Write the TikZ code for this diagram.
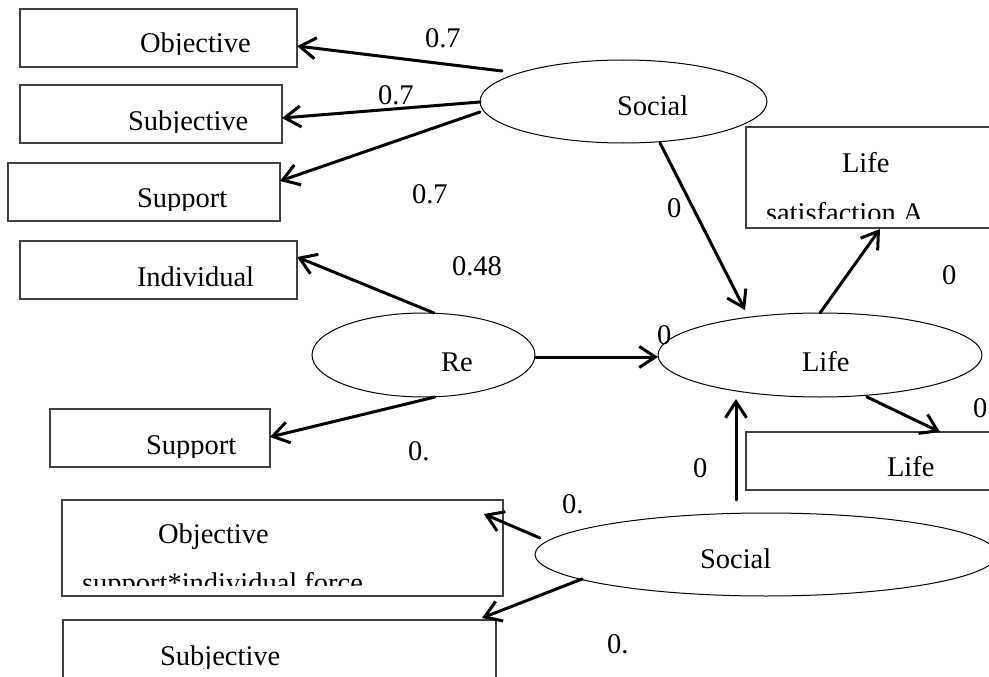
\documentclass[tikz,border=0pt]{standalone}
\usepackage{fontspec}
\setmainfont{Liberation Serif}
\usetikzlibrary{arrows.meta,shapes.geometric}
\begin{document}
\begin{tikzpicture}[x=1pt,y=-1pt,
  box/.style={draw=black!75,line width=1.1pt,rectangle,inner sep=0,outer sep=0,anchor=north west},
  oval/.style={draw,line width=1pt,ellipse,inner sep=0,outer sep=0},
  txt/.style={inner sep=0,outer sep=0,anchor=base west,font=\fontsize{28.5}{34}\selectfont},
  arr/.style={line width=3pt,-{Straight Barb[length=16pt,width=21pt]},line cap=round,line join=round}]
\useasboundingbox (0,0) rectangle (989,677);
% boxes
\node[box,minimum width=277,minimum height=58] (objA) at (20,9) {};
\node[box,minimum width=262,minimum height=58] (subA) at (20,85) {};
\node[box,minimum width=272,minimum height=58] (supA) at (8,163) {};
\node[box,minimum width=277,minimum height=58] (indA) at (20,241) {};
\node[box,minimum width=220,minimum height=58] (supB) at (50,409) {};
\node[box,minimum width=441,minimum height=96] (objB) at (62,500) {};
\node[box,minimum width=433,minimum height=80] (subB) at (63,620) {};
\node[box,minimum width=260,minimum height=101] (lifeA) at (746,127) {};
\node[box,minimum width=260,minimum height=58] (lifeB) at (746,432) {};
% ellipses
\node[oval,minimum width=287,minimum height=83] (socA) at (623.5,101.5) {};
\node[oval,minimum width=223,minimum height=84] (re) at (423.5,355) {};
\node[oval,minimum width=324,minimum height=84] (life) at (820,355) {};
\node[oval,minimum width=462,minimum height=83] (socB) at (766,554.5) {};
% texts (clipped like the original text boxes)
\begin{scope}\clip (0,0) rectangle (989,55);
\node[txt] (tObjA) at (140,53) {Objective};\end{scope}
\begin{scope}\clip (0,60) rectangle (989,132);
\node[txt] (tSubA) at (128,130) {Subjective};\end{scope}
\begin{scope}\clip (0,150) rectangle (989,210);
\node[txt] (tSupA) at (137,207) {Support};\end{scope}
\node[txt] (tIndA) at (137,286) {Individual};
\begin{scope}\clip (0,420) rectangle (989,457);
\node[txt] (tSupB) at (146,454) {Support};\end{scope}
\begin{scope}\clip (0,505) rectangle (989,550);
\node[txt] (tObjB) at (158,543) {Objective};\end{scope}
\begin{scope}\clip (0,560) rectangle (989,585);
\node[txt] (tObjB2) at (82,592) {support*individual force};\end{scope}
\begin{scope}\clip (0,625) rectangle (989,668);
\node[txt] (tSubB) at (160,665) {Subjective};\end{scope}
\node[txt] (tLifeA) at (842,172) {Life};
\begin{scope}\clip (700,180) rectangle (989,218);
\node[txt] (tLifeA2) at (766,222) {satisfaction A};\end{scope}
\node[txt] (tLifeB) at (887,476) {Life};
\node[txt] (tSocA) at (617,115) {Social};
\node[txt] (tRe) at (441,371) {Re};
\node[txt] (tLife) at (802,371) {Life};
\node[txt] (tSocB) at (700,568) {Social};
% labels
\node[txt] (l1) at (425,48) {0.7};
\node[txt] (l2) at (378,104) {0.7};
\node[txt] (l3) at (412,203) {0.7};
\node[txt] (l4) at (452,275) {0.48};
\node[txt] (l5) at (667,217) {0};
\node[txt] (l6) at (942,284) {0};
\node[txt] (l7) at (657,344) {0};
\node[txt] (l8) at (973,417) {0};
\node[txt] (l9) at (408,460) {0.};
\node[txt] (l10) at (693,477) {0};
\node[txt] (l11) at (562,513) {0.};
\node[txt] (l12) at (607,653) {0.};
% connector start points
\coordinate (s1) at (502,71);
\coordinate (s2) at (480,102);
\coordinate (s3) at (480,112);
\coordinate (s4) at (660,143);
\coordinate (s5) at (434,313);
\coordinate (s6) at (435,397);
\coordinate (s7) at (535,357);
\coordinate (s8) at (820,313);
\coordinate (s9) at (867,397);
\coordinate (s10) at (736,500);
\coordinate (s11) at (540,538);
\coordinate (s12) at (582,579);
% connectors
\draw[arr] (s1) -- (objA.east |- 0,46);
\draw[arr] (s2) -- (subA.east |- 0,118);
\draw[arr] (s3) -- (supA.east |- 0,181);
\draw[arr] (s4) -- (745,310);
\draw[arr] (s5) -- (indA.east |- 0,257);
\draw[arr] (s6) -- (supB.east |- 0,437);
\draw[arr] (s7) -- (life.west |- 0,357);
\draw[arr] (s8) -- (880,229);
\draw[arr] (s9) -- (940,432);
\draw[arr] (s10) -- (736,399);
\draw[arr] (s11) -- (484,514);
\draw[arr] (s12) -- (482,618);
\end{tikzpicture}
\end{document}
